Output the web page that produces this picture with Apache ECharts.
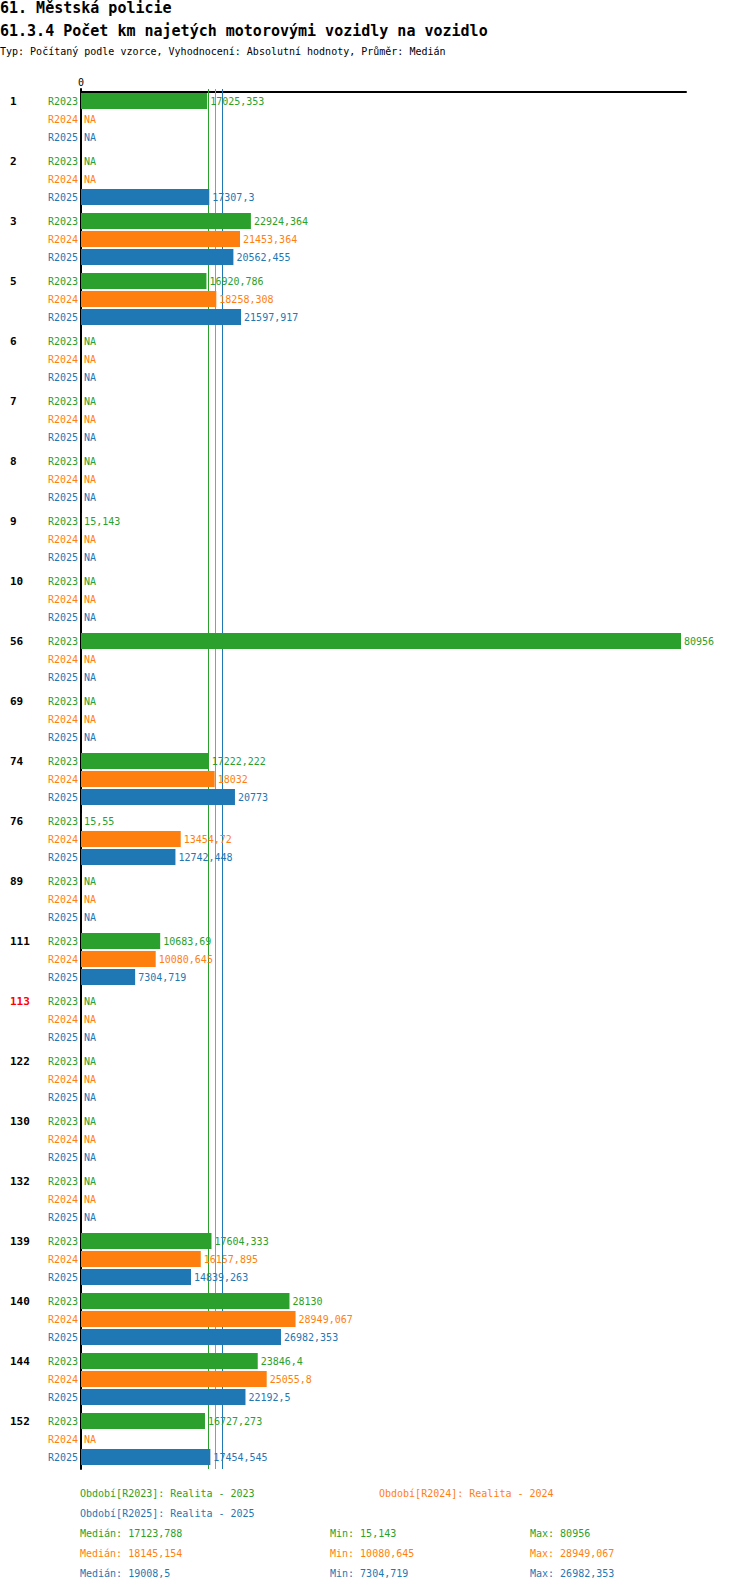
<!DOCTYPE html>
<html>
<head>
<meta charset="utf-8">
<script src="https://cdn.jsdelivr.net/npm/echarts@6/dist/echarts.min.js"></script>
<style>
  html, body { margin: 0; padding: 0; background: #fff; }
  #chart { width: 750px; height: 1592px; }
</style>
</head>
<body>
<div id="chart"></div>
<script>
// 61.3.4 Počet km najetých motorovými vozidly na vozidlo
var groups = ['1', '2', '3', '5', '6', '7', '8', '9', '10', '56', '69', '74', '76', '89',
  '111', '113', '122', '130', '132', '139', '140', '144', '152'];
var flagged = ['113'];
var periods = ['R2023', 'R2024', 'R2025'];
var periodNames = ['Realita - 2023', 'Realita - 2024', 'Realita - 2025'];

var r2023 = [17025.353, null, 22924.364, 16920.786, null, null, null, 15.143, null, 80956, null,
  17222.222, 15.55, null, 10683.69, null, null, null, null, 17604.333, 28130, 23846.4, 16727.273];
var r2024 = [null, null, 21453.364, 18258.308, null, null, null, null, null, null, null,
  18032, 13454.72, null, 10080.645, null, null, null, null, 16157.895, 28949.067, 25055.8, null];
var r2025 = [null, 17307.3, 20562.455, 21597.917, null, null, null, null, null, null, null,
  20773, 12742.448, null, 7304.719, null, null, null, null, 14839.263, 26982.353, 22192.5, 17454.545];
var values = [r2023, r2024, r2025];

var colors = ['#2ca02c', '#ff7f0e', '#1f77b4'];
var mono = '"DejaVu Sans Mono", "Liberation Mono", monospace';

function fmt(v) {
  return String(Math.round(v * 1000) / 1000).replace('.', ',');
}
function median(arr) {
  var s = arr.filter(function(v) { return v != null; }).sort(function(a, b) { return a - b; });
  var m = Math.floor(s.length / 2);
  return s.length % 2 ? s[m] : (s[m - 1] + s[m]) / 2;
}
function present(arr) { return arr.filter(function(v) { return v != null; }); }

var chart = echarts.init(document.getElementById('chart'), null, { renderer: 'svg' });

var series = [];
periods.forEach(function(p, i) {
  var vals = values[i];
  // nulová řada jen pro popisek období vlevo od osy
  series.push({
    type: 'bar', name: p + '-tag', stack: p, silent: true,
    data: groups.map(function() { return 0; }),
    barWidth: 16, barGap: '12.5%',
    itemStyle: { color: colors[i] },
    label: { show: true, position: 'left', distance: 3, formatter: p,
      color: colors[i], fontFamily: mono, fontSize: 10 }
  });
  series.push({
    type: 'bar', name: p, stack: p,
    data: vals.map(function(v) { return v == null ? 0 : v; }),
    barWidth: 16, barGap: '12.5%',
    itemStyle: { color: colors[i] },
    label: {
      show: true, position: 'right', distance: 3,
      color: colors[i], fontFamily: mono, fontSize: 10,
      formatter: function(q) { var v = vals[q.dataIndex]; return v == null ? 'NA' : fmt(v); }
    },
    markLine: {
      silent: true, symbol: 'none', z: 1,
      label: { show: false },
      lineStyle: { color: colors[i], type: 'solid', width: 1 },
      data: [{ xAxis: median(vals) }]
    }
  });
});

// legenda a statistiky pod grafem
var graphics = [];
function txt(x, y, text, color) {
  graphics.push({ type: 'text', left: x, top: y - 6,
    style: { text: text, fill: color, font: '10px ' + mono } });
}
txt(80, 1494, 'Období[R2023]: ' + periodNames[0], colors[0]);
txt(379, 1494, 'Období[R2024]: ' + periodNames[1], colors[1]);
txt(80, 1514, 'Období[R2025]: ' + periodNames[2], colors[2]);
values.forEach(function(vals, i) {
  var y = 1534 + i * 20;
  var s = present(vals);
  txt(80, y, 'Medián: ' + fmt(median(vals)), colors[i]);
  txt(330, y, 'Min: ' + fmt(Math.min.apply(null, s)), colors[i]);
  txt(530, y, 'Max: ' + fmt(Math.max.apply(null, s)), colors[i]);
});

chart.setOption({
  animation: false,
  title: [
    { text: '61. Městská policie', left: 0, top: 0, padding: 0,
      textStyle: { fontFamily: mono, fontSize: 15, fontWeight: 'bold', color: '#000' } },
    { text: '61.3.4 Počet km najetých motorovými vozidly na vozidlo', left: 0, top: 23, padding: 0,
      textStyle: { fontFamily: mono, fontSize: 15, fontWeight: 'bold', color: '#000' } },
    { text: 'Typ: Počítaný podle vzorce, Vyhodnocení: Absolutní hodnoty, Průměr: Medián', left: 0, top: 46, padding: 0,
      textStyle: { fontFamily: mono, fontSize: 10, fontWeight: 'normal', color: '#000' } }
  ],
  grid: { left: 81, right: 64, top: 89, height: 1380, containLabel: false },
  xAxis: {
    type: 'value', position: 'top', offset: -3,
    min: 0, max: 81630, interval: 81630,
    axisLine: { show: true, lineStyle: { color: '#000', width: 2 } },
    axisTick: { show: false },
    splitLine: { show: false },
    axisLabel: {
      margin: 5, color: '#000', fontFamily: mono, fontSize: 10,
      formatter: function(v) { return v === 0 ? '0' : ''; }
    }
  },
  yAxis: {
    type: 'category', inverse: true, data: groups,
    axisLine: { show: true, lineStyle: { color: '#000', width: 2 } },
    axisTick: { show: false },
    axisLabel: {
      align: 'left', margin: 71, padding: [0, 0, 36, 0],
      fontFamily: mono, fontSize: 11, fontWeight: 'bold', color: '#000',
      formatter: function(v) { return flagged.indexOf(v) >= 0 ? '{red|' + v + '}' : v; },
      rich: { red: { color: '#ff0000', fontFamily: mono, fontSize: 11, fontWeight: 'bold' } }
    }
  },
  series: series,
  graphic: graphics
});
</script>
</body>
</html>
